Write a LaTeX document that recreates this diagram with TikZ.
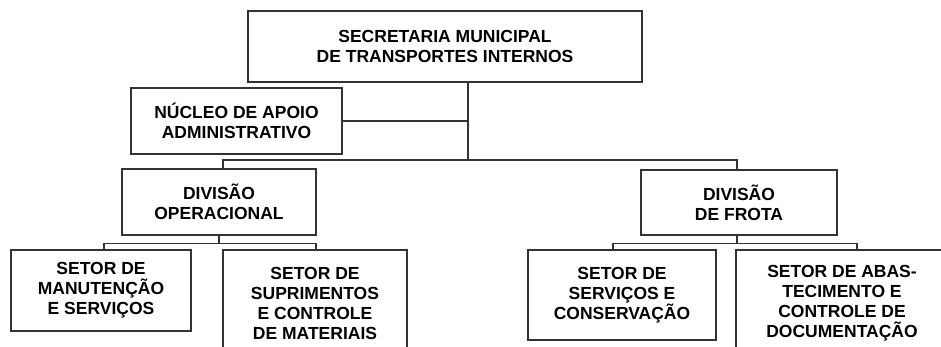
\documentclass[tikz,border=0pt]{standalone}
\usepackage{fontspec}
\setmainfont{Liberation Sans}
\usepackage{tikz}
\tikzset{>=latex}
\tikzstyle{unit} = [draw = black!80, line width = 1.2pt, align = center, inner sep = 0, font = \bfseries\fontsize{17.5}{20}\selectfont]
\tikzstyle{link} = [-, draw = black!80, line width = 1.2pt]

\begin{document}
\begin{tikzpicture}[x=1pt, y=-1pt]
\useasboundingbox (0,0) rectangle (941,347);
\clip (0,0) rectangle (941,347);
\node [unit, minimum width = 394pt, minimum height = 71pt] (sec) at (445, 46.5) {SECRETARIA MUNICIPAL\\DE TRANSPORTES INTERNOS};
\node [unit, minimum width = 211pt, minimum height = 66pt] (nucleo) at (236.5, 121) {NÚCLEO DE APOIO\\ADMINISTRATIVO};
\node [unit, minimum width = 194pt, minimum height = 66pt] (divop) at (219, 202) {DIVISÃO\\OPERACIONAL};
\node [unit, minimum width = 196pt, minimum height = 65pt] (divfrota) at (739, 202.5) {DIVISÃO\\DE FROTA};
\node [unit, minimum width = 180pt, minimum height = 81pt] (manut) at (101, 290.5) {SETOR DE\\MANUTENÇÃO\\E SERVIÇOS};
\node [unit, minimum width = 184pt, minimum height = 106pt] (supri) at (315, 303) {SETOR DE\\SUPRIMENTOS\\E CONTROLE\\DE MATERIAIS};
\node [unit, minimum width = 188pt, minimum height = 90pt] (serv) at (622, 295) {SETOR DE\\SERVIÇOS E\\CONSERVAÇÃO};
\node [unit, minimum width = 212pt, minimum height = 106pt] (abast) at (842, 303) {SETOR DE ABAS-\\TECIMENTO E\\CONTROLE DE\\DOCUMENTAÇÃO};
%\node [unit] at (470, 10) {};
\coordinate (trunk) at (468, 160);
\draw [link] (sec.south -| trunk) -- (trunk);
\draw [link] (nucleo.east) -- (nucleo.east -| trunk);
\draw [link] ([xshift = 4pt]divop.north) |- (trunk) -| ([xshift = -2pt]divfrota.north);
\draw [link] (divop.south) -- ++(0, 8) coordinate (busop);
\draw [link] ([xshift = 3pt]manut.north) |- (busop) -| ([xshift = 1pt]supri.north);
\draw [link] ([xshift = -2pt]divfrota.south) -- ++(0, 8) coordinate (busfrota);
\draw [link] ([xshift = -9pt]serv.north) |- (busfrota) -| ([xshift = 15pt]abast.north);
\end{tikzpicture}
\end{document}
